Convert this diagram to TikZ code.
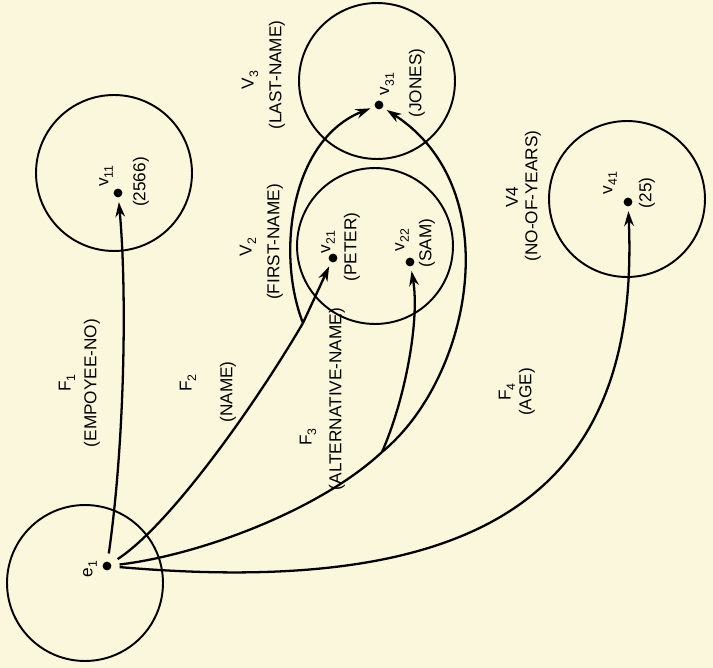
\documentclass[tikz,border=0pt]{standalone}
\usepackage{fontspec}
\setmainfont{Liberation Sans}
\usepackage{tikz}
\usetikzlibrary{arrows.meta}

\definecolor{paper}{RGB}{250,247,221}
\newcommand{\lowidx}[1]{\raisebox{-0.5ex}{\scriptsize #1}}

\begin{document}
\begin{tikzpicture}[x=0.02cm, y=-0.02cm,
    dot/.style={circle, fill, inner sep=0pt, minimum size=5pt},
    valset/.style={circle, draw, line width=1.1pt, minimum size=3.12cm},
    lbl/.style={rotate=90, inner sep=1pt, font=\fontsize{9.8}{11}\selectfont},
    trunk/.style={line width=1.3pt, shorten <=4.5pt},
    fn/.style={line width=1.3pt, -{Stealth[length=8.5pt,width=5.5pt]}, shorten >=2.5pt}]
    \fill[paper] (0,0) rectangle (713,668);
    \useasboundingbox (0,0) rectangle (713,668);

    % Entity
    \node (ent) [valset] at (85,583) {};
    \node (e1) [dot] at (107,566) {};
    \node (e1lbl) [lbl] at (90,569) {e\lowidx{1}};

    % Value sets
    \node (set1) [valset] at (114,173) {};
    \node (set2) [valset] at (375,246) {};
    \node (set3) [valset] at (377,81) {};
    \node (set4) [valset] at (627,199) {};

    % Values
    \node (v11) [dot] at (118,193) {};
    \node (v21) [dot] at (333,258) {};
    \node (v22) [dot] at (410,262) {};
    \node (v31) [dot] at (379,105) {};
    \node (v41) [dot] at (628,202) {};

    \node (v11lbl) [lbl] at (106,176) {v\lowidx{11}};
    \node (v11val) [lbl] at (141,182) {(2566)};
    \node (v21lbl) [lbl] at (328,242) {v\lowidx{21}};
    \node (v21val) [lbl] at (352,247) {(PETER)};
    \node (v22lbl) [lbl] at (402,240) {v\lowidx{22}};
    \node (v22val) [lbl] at (427,243) {(SAM)};
    \node (v31lbl) [lbl] at (387,84) {v\lowidx{31}};
    \node (v31val) [lbl] at (417,83) {(JONES)};
    \node (v41lbl) [lbl] at (610,183) {v\lowidx{41}};
    \node (v41val) [lbl] at (647,193) {(25)};

    % Value set names
    \node (s2name) [lbl] at (248,247) {V\lowidx{2}};
    \node (s2txt) [lbl] at (275,242) {(FIRST-NAME)};
    \node (s3name) [lbl] at (250,80) {V\lowidx{3}};
    \node (s3txt) [lbl] at (277,75) {(LAST-NAME)};
    \node (s4name) [lbl] at (512,197) {V4};
    \node (s4txt) [lbl] at (533,196) {(NO-OF-YEARS)};

    % Function names
    \node (f1name) [lbl] at (67,383) {F\lowidx{1}};
    \node (f1txt) [lbl] at (92,383) {(EMPOYEE-NO)};
    \node (f2name) [lbl] at (188,383) {F\lowidx{2}};
    \node (f2txt) [lbl] at (228,392) {(NAME)};
    \node (f3name) [lbl] at (308,437) {F\lowidx{3}};
    \node (f3txt) [lbl] at (337,399) {(ALTERNATIVE-NAME)};
    \node (f4name) [lbl] at (507,392) {F\lowidx{4}};
    \node (f4txt) [lbl] at (527,392) {(AGE)};

    % Branch points
    \coordinate (j2) at (303,323);
    \coordinate (j3) at (382,452);

    % Arrows
    \draw[fn, shorten <=4.5pt] (e1) .. controls (125,440) and (127,290) .. (v11);
    \draw[trunk] (e1) .. controls (170,525) and (255,405) .. (j2);
    \draw[fn] (j2) -- (v21);
    \draw[fn] (j2) .. controls (276,255) and (290,140) .. (v31);
    \draw[trunk] (e1) .. controls (200,555) and (320,510) .. (j3);
    \draw[fn] (j3) .. controls (405,400) and (420,320) .. (v22);
    \draw[fn] (j3) .. controls (470,380) and (510,190) .. (v31);
    \draw[fn, shorten <=4.5pt] (e1) .. controls (500,600) and (640,480) .. (v41);
\end{tikzpicture}
\end{document}
